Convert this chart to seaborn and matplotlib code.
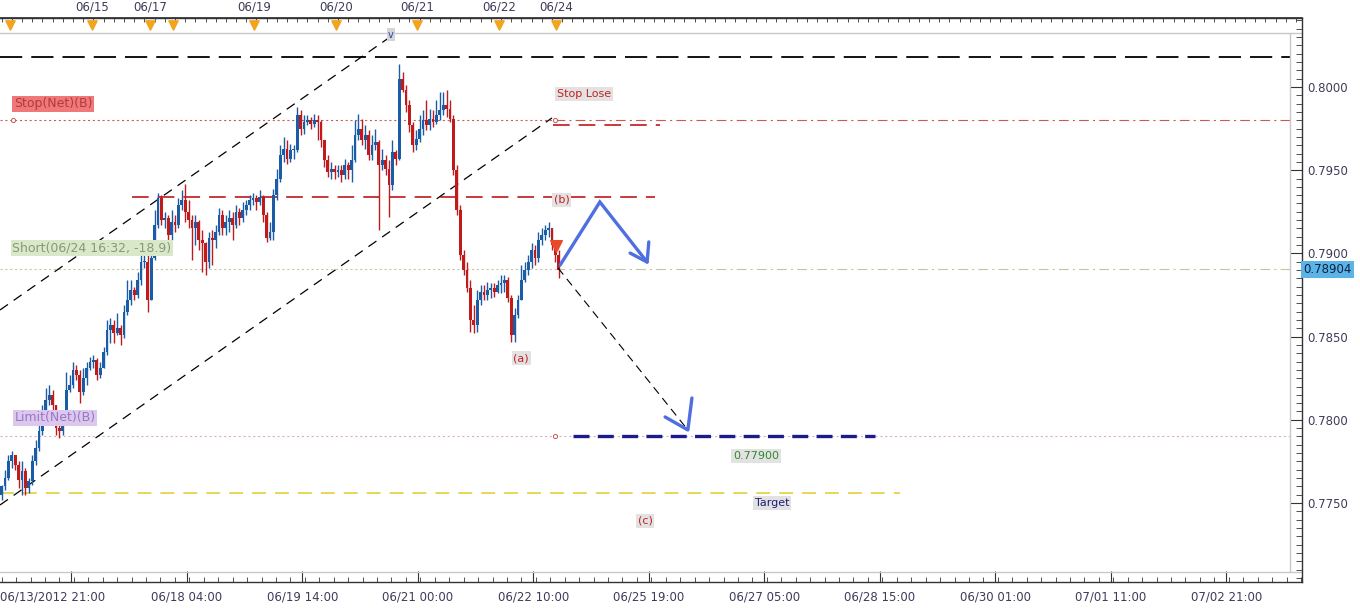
import numpy as np
import pandas as pd
import matplotlib
matplotlib.use("Agg")
import matplotlib.pyplot as plt
from matplotlib.ticker import MultipleLocator, FormatStrFormatter
import seaborn as sns

# hourly bars from 06/13/2012 21:00, prices in pips (x 0.0001)
first_open = 7755
close_pips = [
    7760, 7765, 7775, 7779, 7773, 7764, 7769, 7759, 7763, 7775,
    7783, 7793, 7801, 7812, 7815, 7809, 7795, 7793, 7801, 7818,
    7821, 7830, 7827, 7817, 7825, 7831, 7835, 7836, 7827, 7831,
    7841, 7854, 7857, 7852, 7855, 7851, 7865, 7872, 7878, 7875,
    7884, 7895, 7895, 7872, 7897, 7917, 7933, 7920, 7921, 7911,
    7919, 7917, 7929, 7932, 7925, 7920, 7915, 7919, 7908, 7906,
    7895, 7909, 7908, 7913, 7923, 7915, 7919, 7921, 7917, 7925,
    7921, 7926, 7929, 7932, 7933, 7931, 7934, 7923, 7909, 7913,
    7935, 7945, 7959, 7963, 7957, 7962, 7962, 7983, 7975, 7979,
    7980, 7978, 7980, 7979, 7968, 7956, 7949, 7951, 7949, 7950,
    7947, 7953, 7950, 7956, 7971, 7975, 7968, 7971, 7959, 7965,
    7967, 7953, 7956, 7951, 7941, 7961, 7957, 8005, 7998, 7989,
    7977, 7965, 7969, 7975, 7980, 7977, 7981, 7979, 7983, 7986,
    7989, 7987, 7981, 7950, 7926, 7899, 7890, 7879, 7860, 7857,
    7872, 7877, 7875, 7878, 7879, 7877, 7881, 7882, 7884, 7873,
    7851, 7863, 7872, 7884, 7890, 7895, 7902, 7897, 7908, 7911,
    7914, 7915, 7905, 7899, 7890,
]
high_pips = [
    7761, 7770, 7779, 7781, 7779, 7775, 7775, 7771, 7765, 7779,
    7788, 7797, 7809, 7819, 7821, 7818, 7806, 7797, 7806, 7829,
    7827, 7835, 7833, 7830, 7831, 7835, 7838, 7839, 7837, 7835,
    7844, 7860, 7861, 7860, 7864, 7857, 7869, 7884, 7884, 7880,
    7889, 7899, 7902, 7899, 7902, 7926, 7936, 7935, 7925, 7923,
    7926, 7923, 7933, 7938, 7942, 7932, 7923, 7923, 7920, 7914,
    7907, 7913, 7914, 7917, 7927, 7926, 7923, 7926, 7925, 7929,
    7927, 7931, 7932, 7935, 7936, 7935, 7938, 7935, 7925, 7919,
    7939, 7951, 7965, 7970, 7968, 7966, 7965, 7988, 7986, 7983,
    7983, 7982, 7984, 7983, 7980, 7968, 7959, 7955, 7953, 7953,
    7953, 7957, 7955, 7965, 7980, 7984, 7981, 7977, 7974, 7971,
    7975, 7968, 7963, 7959, 7956, 7968, 7962, 8014, 8009, 8001,
    7992, 7979, 7974, 7983, 7986, 7992, 7987, 7986, 7992, 7997,
    7997, 7998, 7992, 7983, 7953, 7929, 7902, 7895, 7884, 7869,
    7878, 7881, 7881, 7883, 7882, 7882, 7884, 7887, 7887, 7886,
    7875, 7867, 7875, 7893, 7895, 7899, 7906, 7905, 7913, 7915,
    7917, 7919, 7915, 7908, 7902,
]
low_pips = [
    7752, 7758, 7764, 7771, 7770, 7759, 7755, 7755, 7756, 7761,
    7773, 7781, 7791, 7800, 7809, 7806, 7791, 7789, 7791, 7801,
    7817, 7819, 7824, 7810, 7815, 7821, 7830, 7831, 7824, 7825,
    7833, 7839, 7846, 7846, 7851, 7845, 7849, 7863, 7869, 7872,
    7873, 7881, 7891, 7865, 7872, 7896, 7915, 7917, 7915, 7908,
    7908, 7913, 7915, 7926, 7919, 7915, 7896, 7905, 7902, 7889,
    7887, 7891, 7893, 7903, 7911, 7911, 7911, 7913, 7908, 7915,
    7917, 7919, 7923, 7926, 7929, 7926, 7929, 7919, 7907, 7908,
    7908, 7932, 7943, 7955, 7954, 7955, 7957, 7961, 7971, 7972,
    7977, 7975, 7976, 7968, 7964, 7952, 7946, 7945, 7945, 7946,
    7943, 7945, 7945, 7943, 7955, 7968, 7965, 7963, 7956, 7956,
    7962, 7914, 7950, 7947, 7922, 7938, 7953, 7956, 7997, 7985,
    7973, 7961, 7962, 7967, 7971, 7974, 7974, 7976, 7978, 7980,
    7983, 7982, 7979, 7947, 7923, 7896, 7887, 7877, 7853, 7852,
    7853, 7869, 7872, 7872, 7873, 7874, 7876, 7876, 7877, 7871,
    7847, 7847, 7861, 7872, 7883, 7887, 7891, 7893, 7895, 7905,
    7908, 7910, 7902, 7895, 7885,
]

# bottom axis: bar index of the major ticks and their labels
bottom_ticks = [20.5, 54.5, 88.5, 122.5, 156.5, 190.5, 224.5, 258.5, 292.5, 326.5, 360.5]
bottom_labels = ["", "06/18 04:00", "06/19 14:00", "06/21 00:00", "06/22 10:00",
                 "06/25 19:00", "06/27 05:00", "06/28 15:00", "06/30 01:00",
                 "07/01 11:00", "07/02 21:00"]
first_label = "06/13/2012 21:00"
# top axis: day marks
day_marks = [2.4, 26.6, 43.7, 50.4, 74.3, 98.4, 122.3, 146.4, 163.2]
day_labels = ["", "06/15", "06/17", "", "06/19", "06/20", "06/21", "06/22", "06/24"]

# levels
top_level = 0.8018
stop_level = 0.7980
stop_dash_level = 0.7977
b_level = 0.7934
short_level = 0.78904
limit_level = 0.7790
target_level = 0.7756

# trend channel (bar, price)
upper_channel = ([-0.5, 115.2], [0.78660, 0.80313])
lower_channel = ([-0.5, 162.0], [0.77488, 0.79814])
# hand drawn projections
wave_x = [164.4, 176.1, 190.0]
wave_y = [0.78930, 0.79309, 0.78948]
head1_x = [185.0, 190.0, 190.5]
head1_y = [0.79002, 0.78948, 0.79069]
drop_x = [163.8, 202.0]
drop_y = [0.78912, 0.77939]
head2_x = [195.3, 202.0, 203.2]
head2_y = [0.78017, 0.77939, 0.78131]

BLUE = "#1a5ca6"
RED = "#c11a1a"
TXT = "#3c3c5a"

sns.set_theme(style="white")
plt.rcParams["font.family"] = ["DejaVu Sans"]
plt.rcParams["lines.scale_dashes"] = False

df = pd.DataFrame({
    "bar": np.arange(len(close_pips)),
    "close": np.array(close_pips) / 1e4,
    "high": np.array(high_pips) / 1e4,
    "low": np.array(low_pips) / 1e4,
})
df["open"] = df["close"].shift(1).fillna(first_open / 1e4)
df["high"] = df[["high", "open", "close"]].max(axis=1)
df["low"] = df[["low", "open", "close"]].min(axis=1)
df["up"] = df["close"] >= df["open"]

fig = plt.figure(figsize=(13.6, 6.08), dpi=100)
ax = fig.add_axes([0, 1 - 582 / 608, 1302 / 1360, 564 / 608])
ax.set_xlim(-0.5, 382.8)
ax.set_ylim(0.770252, 0.804147)

# candles
colors = np.where(df["up"], BLUE, RED)
ax.vlines(df["bar"], df["low"], df["high"], colors=colors, lw=1.0, zorder=3)
body = (df["close"] - df["open"]).abs().clip(lower=0.00005)
ax.bar(df["bar"], body, bottom=df[["open", "close"]].min(axis=1), width=0.82,
       color=colors, linewidth=0, zorder=3)

xend = 379.3
# horizontal levels
ax.plot([-0.5, xend], [top_level] * 2, color="black", lw=1.3, dashes=(16, 6.5), zorder=2)
ax.plot([-0.5, 163], [stop_level] * 2, color="#c85a5a", lw=0.8, dashes=(1.5, 2), zorder=2)
ax.plot([163, xend], [stop_level] * 2, color="#c85a5a", lw=0.8, dashes=(7, 3, 1.5, 3), zorder=2)
ax.plot([-0.5, 163], [short_level] * 2, color="#c9c29a", lw=0.8, dashes=(1.5, 2), zorder=2)
ax.plot([163, xend], [short_level] * 2, color="#c9c29a", lw=0.8, dashes=(7, 3, 1.5, 3), zorder=2)
ax.plot([-0.5, xend], [limit_level] * 2, color="#d8b0b0", lw=0.8, dashes=(1.5, 2), zorder=2)
ax.plot([38.4, 192.3], [b_level] * 2, color="#c42b2b", lw=1.3, dashes=(12, 6.5), zorder=2)
ax.plot([162.3, 193.8], [stop_dash_level] * 2, color="#c42b2b", lw=1.3, dashes=(12, 6.5), zorder=2)
ax.plot([168.2, 257.1], [limit_level] * 2, color="#1c1c8c", lw=2.4, dashes=(11.5, 6), zorder=4)
ax.plot([-0.5, 264.4], [target_level] * 2, color="#e6cf3a", lw=1.2, dashes=(10, 6.5), zorder=2)

# channel
ax.plot(*upper_channel, color="black", lw=0.9, dashes=(7, 5), zorder=2)
ax.plot(*lower_channel, color="black", lw=0.9, dashes=(7, 5), zorder=2)

# projections
ax.plot(drop_x, drop_y, color="black", lw=0.8, dashes=(6, 4), zorder=4)
ax.plot(wave_x, wave_y, color="#4f6fe0", lw=2.4, zorder=5, solid_joinstyle="miter")
ax.plot(head1_x, head1_y, color="#4f6fe0", lw=2.4, zorder=5)
ax.plot(head2_x, head2_y, color="#4f6fe0", lw=2.4, zorder=5)
ax.scatter([163.2], [0.79044], marker="v", s=70, color="#e84a2a", zorder=6)

# small order markers
ax.plot([3.3, 163.0, 163.0], [stop_level, stop_level, limit_level], "o", ms=3,
        mfc="white", mec="#c85a5a", mew=0.7, zorder=4)


def tag(x, y, s, fc, tc, size=8.5):
    ax.text(x, y, s, ha="center", va="center", fontsize=size, color=tc, zorder=7,
            bbox=dict(boxstyle="square,pad=0.15", fc=fc, ec="none"))


tag(15.1, 0.79898, "Stop(Net)(B)", "#f07878", "#b23a3a", 9)
tag(26.6, 0.79032, "Short(06/24 16:32, -18.9)", "#d9e8c9", "#849b74", 9)
tag(15.7, 0.78011, "Limit(Net)(B)", "#dcc7ee", "#9878c0", 9)
tag(171.4, 0.79958, "Stop Lose", "#e2e2e2", "#c42020", 8)
tag(164.9, 0.79321, "(b)", "#e2e2e2", "#c42020", 8)
tag(152.9, 0.78371, "(a)", "#e2e2e2", "#c42020", 8)
tag(189.4, 0.77392, "(c)", "#e2e2e2", "#c42020", 8)
tag(222.1, 0.77782, "0.77900", "#e2e2e2", "#2e8a2e", 8)
tag(226.8, 0.77500, "Target", "#e2e2e2", "#1c1c7a", 8)
tag(114.6, 0.80313, "v", "#d4d4d8", "#3040a0", 7)

# inner grey frame
ax.plot([0, 1], [0.973, 0.973], transform=ax.transAxes, color="#c8c8c8", lw=1, clip_on=False)
ax.plot([0, 1], [0.0177, 0.0177], transform=ax.transAxes, color="#c8c8c8", lw=1, clip_on=False)
ax.plot([0.9908, 0.9908], [0.0177, 0.973], transform=ax.transAxes, color="#c8c8c8", lw=1, clip_on=False)

for side in ["top", "bottom", "right"]:
    ax.spines[side].set_visible(True)
    ax.spines[side].set_color("#333333")
    ax.spines[side].set_linewidth(1)
ax.spines["left"].set_visible(False)

# right price axis
ax.yaxis.tick_right()
ax.yaxis.set_major_locator(MultipleLocator(0.005))
ax.yaxis.set_minor_locator(MultipleLocator(0.0005))
ax.yaxis.set_major_formatter(FormatStrFormatter("%.4f"))
ax.tick_params(axis="y", which="major", direction="in", length=8.5, width=0.8,
               color="#333333", labelsize=8.5, labelcolor=TXT, pad=4, right=True, left=False)
ax.tick_params(axis="y", which="minor", direction="in", length=4, width=0.6,
               color="#333333", right=True, left=False)
ax.text(1.001, short_level, f"{short_level:.5f}", transform=ax.get_yaxis_transform(),
        ha="left", va="center", fontsize=8.5, color="#102040", clip_on=False,
        bbox=dict(boxstyle="square,pad=0.2", fc="#5ab4e8", ec="none"))

# bottom time axis
ax.set_xticks(bottom_ticks, labels=bottom_labels)
ax.xaxis.set_minor_locator(MultipleLocator(34 / 8))
ax.tick_params(axis="x", which="major", direction="in", length=8, width=0.8,
               color="#333333", labelsize=8.5, labelcolor=TXT, pad=6, bottom=True, top=False)
ax.tick_params(axis="x", which="minor", direction="in", length=3.5, width=0.6,
               color="#333333", bottom=True, top=False)
ax.text(-0.5, -0.027, first_label, transform=ax.get_xaxis_transform(), ha="left",
        va="center", fontsize=8.5, color=TXT, clip_on=False)

# top date axis
sec = ax.secondary_xaxis("top")
sec.set_xticks(day_marks, labels=day_labels)
sec.xaxis.set_minor_locator(MultipleLocator(3))
sec.tick_params(axis="x", which="major", length=0, labelsize=8.5, labelcolor=TXT, pad=3)
sec.tick_params(axis="x", which="minor", direction="in", length=3, width=0.6, color="#333333")
sec.spines["top"].set_color("#333333")
ax.scatter(day_marks, [0.987] * len(day_marks), marker="v", s=45, color="#f2a41e",
           transform=ax.get_xaxis_transform(), clip_on=False, zorder=6)

ax.set_xlabel("")
ax.set_ylabel("")
fig.savefig("out.png", dpi=100)
